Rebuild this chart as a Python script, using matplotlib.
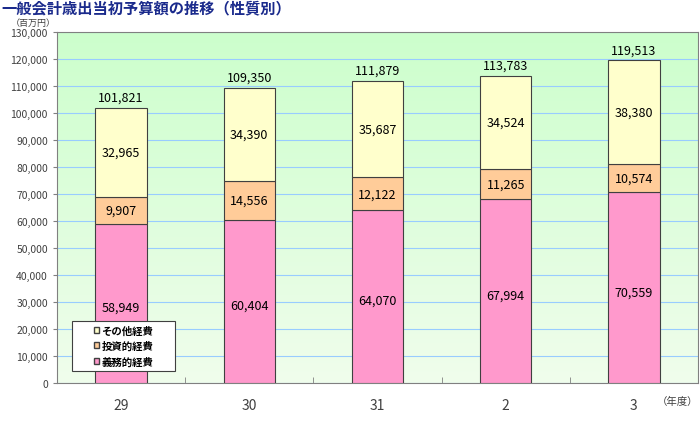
import numpy as np
import matplotlib.pyplot as plt
from matplotlib.patches import Patch, Rectangle
from matplotlib.ticker import FuncFormatter
from matplotlib.colors import LinearSegmentedColormap

plt.rcParams['font.family'] = ['Noto Sans CJK JP', 'DejaVu Sans']

years = ['29', '30', '31', '2', '3']
gimu = [58949, 60404, 64070, 67994, 70559]      # 義務的経費
toshi = [9907, 14556, 12122, 11265, 10574]      # 投資的経費
sonota = [32965, 34390, 35687, 34524, 38380]    # その他経費
totals = [101821, 109350, 111879, 113783, 119513]

fig = plt.figure(figsize=(7, 4.27), dpi=100)
ax = fig.add_axes([0.0814, 0.1007, 0.9157, 0.822])

# gradient background
grad = np.linspace(0, 1, 256).reshape(-1, 1)
cmap = LinearSegmentedColormap.from_list('bg', ['#ccffcc', '#f0fdec'])
ax.imshow(grad, aspect='auto', cmap=cmap, extent=(-0.5, 4.5, 0, 130000),
          origin='upper', zorder=0)

x = np.arange(len(years))
w = 0.4
ec = '#404040'
ax.bar(x, gimu, w, color='#ff99cc', edgecolor=ec, linewidth=0.8, zorder=3)
ax.bar(x, toshi, w, bottom=gimu, color='#ffcc99', edgecolor=ec, linewidth=0.8, zorder=3)
bot3 = [a + b for a, b in zip(gimu, toshi)]
ax.bar(x, sonota, w, bottom=bot3, color='#ffffcc', edgecolor=ec, linewidth=0.8, zorder=3)

for i in range(len(years)):
    ax.text(x[i], gimu[i] / 2 - 1500, f'{gimu[i]:,}', ha='center', va='center', fontsize=9, zorder=4)
    ax.text(x[i], gimu[i] + toshi[i] / 2, f'{toshi[i]:,}', ha='center', va='center', fontsize=9, zorder=4)
    ax.text(x[i], bot3[i] + sonota[i] / 2, f'{sonota[i]:,}', ha='center', va='center', fontsize=9, zorder=4)
    ax.text(x[i], totals[i] + 1500, f'{totals[i]:,}', ha='center', va='bottom', fontsize=9, zorder=4)

ax.set_xlim(-0.5, 4.5)
ax.set_ylim(0, 130000)
ax.set_yticks(np.arange(0, 130001, 10000))
ax.yaxis.set_major_formatter(FuncFormatter(lambda v, p: f'{int(v):,}'))
ax.yaxis.grid(True, color='#99ccff', linewidth=0.8, zorder=1)
ax.set_axisbelow(True)
ax.set_xticks(x)
ax.set_xticklabels(years, fontsize=10, color='#404040')
ax.set_xticks(np.arange(0.5, 4.5, 1), minor=True)
ax.tick_params(axis='x', which='major', length=0, pad=11)
ax.tick_params(axis='x', which='minor', length=4, direction='in', color='#808080')
ax.tick_params(axis='y', labelsize=7.5, length=3, color='#808080', labelcolor='#404040')
for s in ax.spines.values():
    s.set_color('#808080')

# legend: white box drawn separately, entries centred in it
box = Rectangle((0.0234, 0.034), 0.161, 0.143, transform=ax.transAxes, facecolor='white',
                edgecolor='#404040', linewidth=0.8, zorder=5)
ax.add_patch(box)
handles = [Patch(facecolor='#ffffcc', edgecolor=ec), Patch(facecolor='#ffcc99', edgecolor=ec),
           Patch(facecolor='#ff99cc', edgecolor=ec)]
leg = ax.legend(handles, ['その他経費', '投資的経費', '義務的経費'], loc='center',
                bbox_to_anchor=(0.104, 0.1055), fontsize=7.5, handlelength=0.5, handleheight=0.5,
                handletextpad=0.2, labelspacing=0.5, frameon=False, borderpad=0, borderaxespad=0)
leg.set_zorder(6)
for t in leg.get_texts():
    t.set_fontweight('bold')

fig.text(0.002, 0.998, '一般会計歳出当初予算額の推移（性質別）', fontsize=11, color='#1a2a8c',
         fontweight='bold', va='top', ha='left')
fig.text(0.015, 0.946, '（百万円）', fontsize=6.5, color='#404040', va='center')
fig.text(0.997, 0.058, '（年度）', fontsize=7.5, color='#404040', va='center', ha='right')

fig.savefig('out.png', dpi=100)
